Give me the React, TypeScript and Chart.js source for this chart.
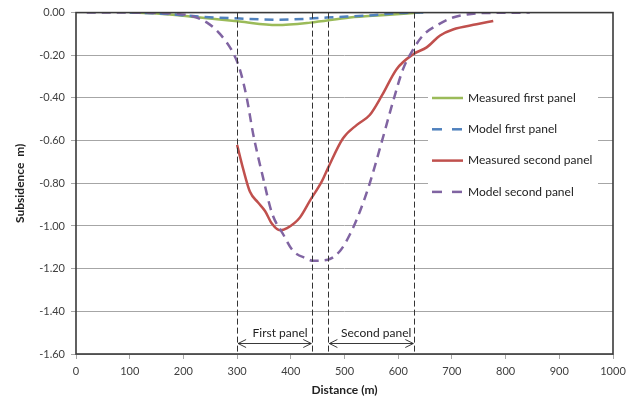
import React, { useEffect, useRef } from "react";
import { Chart, registerables } from "chart.js";

Chart.register(...registerables);

const xTicks = [0, 100, 200, 300, 400, 500, 600, 700, 800, 900, 1000];
const yTicks = [0, -0.2, -0.4, -0.6, -0.8, -1.0, -1.2, -1.4, -1.6];

const seriesNames = [
  "Measured first panel",
  "Model first panel",
  "Measured second panel",
  "Model second panel",
];

const measuredFirstX = [100, 150, 231, 305, 374, 436, 510, 570, 640];
const measuredFirstY = [0, -0.004, -0.023, -0.042, -0.058, -0.047, -0.023, -0.012, 0];

const modelFirstX = [100, 160, 231, 305, 374, 436, 467, 542, 628, 650];
const modelFirstY = [0, -0.005, -0.019, -0.028, -0.033, -0.028, -0.023, -0.014, 0, 0];

const measuredSecondX = [300, 311, 324, 339, 352, 365, 380, 393, 417, 436, 458, 469, 497, 523, 547, 570, 597, 628, 653, 678, 702, 746, 777];
const measuredSecondY = [-0.62, -0.73, -0.84, -0.89, -0.93, -0.99, -1.02, -1.01, -0.96, -0.88, -0.79, -0.73, -0.59, -0.526, -0.48, -0.387, -0.265, -0.195, -0.163, -0.107, -0.079, -0.055, -0.039];

const modelSecondX = [20, 100, 180, 212, 244, 268, 292, 305, 318, 330, 348, 365, 386, 404, 430, 441, 469, 492, 510, 529, 547, 570, 590, 609, 628, 646, 672, 702, 728, 760, 845];
const modelSecondY = [0, 0, -0.005, -0.014, -0.047, -0.1, -0.186, -0.265, -0.4, -0.57, -0.77, -0.94, -1.04, -1.116, -1.153, -1.163, -1.158, -1.116, -1.04, -0.93, -0.8, -0.6, -0.42, -0.265, -0.172, -0.107, -0.06, -0.023, -0.009, -0.002, 0];

const panelBoundaries = [300, 440, 470, 630];
const panelLabels = ["First panel", "Second panel"];
const panelLabelX = [380, 559];
const panelLabelY = -1.5;
const arrowY = -1.55;

const colors = ["#9bbb59", "#4f81bd", "#c0504d", "#8064a2"];
const dashes: number[][] = [[], [9, 6], [], [9, 6]];

const FONT = "Lato, 'Open Sans', sans-serif";

function zip(xs: number[], ys: number[]) {
  return xs.map((x, i) => ({ x, y: ys[i] }));
}

export default function App() {
  const ref = useRef<HTMLCanvasElement | null>(null);

  useEffect(() => {
    const canvas = ref.current;
    if (!canvas) return;
    const allX = [measuredFirstX, modelFirstX, measuredSecondX, modelSecondX];
    const allY = [measuredFirstY, modelFirstY, measuredSecondY, modelSecondY];

    const overlay = {
      id: "overlay",
      afterDatasetsDraw(chart: any) {
        const { ctx, chartArea, scales } = chart;
        const xs = scales.x;
        const ys = scales.y;
        ctx.save();
        // border
        ctx.strokeStyle = "#3a3a3a";
        ctx.lineWidth = 1.6;
        ctx.strokeRect(chartArea.left, chartArea.top, chartArea.right - chartArea.left, chartArea.bottom - chartArea.top);
        // vertical dashed lines
        ctx.strokeStyle = "#333";
        ctx.lineWidth = 1;
        ctx.setLineDash([6, 3]);
        panelBoundaries.forEach((v) => {
          const px = Math.round(xs.getPixelForValue(v)) + 0.5;
          ctx.beginPath();
          ctx.moveTo(px, chartArea.top);
          ctx.lineTo(px, chartArea.bottom);
          ctx.stroke();
        });
        ctx.setLineDash([]);
        // arrows
        const ay = Math.round(ys.getPixelForValue(arrowY)) + 0.5;
        for (let i = 0; i < 2; i++) {
          const a = xs.getPixelForValue(panelBoundaries[i * 2]) + 1;
          const b = xs.getPixelForValue(panelBoundaries[i * 2 + 1]) - 1;
          ctx.strokeStyle = "#222";
          ctx.lineWidth = 0.9;
          ctx.beginPath();
          ctx.moveTo(a, ay);
          ctx.lineTo(b, ay);
          ctx.moveTo(a + 8, ay - 4);
          ctx.lineTo(a, ay);
          ctx.lineTo(a + 8, ay + 4);
          ctx.moveTo(b - 8, ay - 4);
          ctx.lineTo(b, ay);
          ctx.lineTo(b - 8, ay + 4);
          ctx.stroke();
          ctx.fillStyle = "#222";
          ctx.font = `12px ${FONT}`;
          ctx.textAlign = "center";
          ctx.textBaseline = "middle";
          ctx.fillText(panelLabels[i], xs.getPixelForValue(panelLabelX[i]), ys.getPixelForValue(panelLabelY));
        }
        // legend
        const lx = 428;
        const ly = 84;
        ctx.fillStyle = "#ffffff";
        ctx.fillRect(lx, ly, 170, 122);
        seriesNames.forEach((name, i) => {
          const y = 98 + i * 31.3;
          ctx.strokeStyle = colors[i];
          ctx.lineWidth = 2.5;
          ctx.setLineDash(dashes[i].length ? [10, 10] : []);
          ctx.beginPath();
          ctx.moveTo(432, y);
          ctx.lineTo(463, y);
          ctx.stroke();
          ctx.setLineDash([]);
          ctx.fillStyle = "#222";
          ctx.font = `12px ${FONT}`;
          ctx.textAlign = "left";
          ctx.textBaseline = "middle";
          ctx.fillText(name, 468, y);
        });
        ctx.restore();
      },
    };

    const chart = new Chart(canvas, {
      type: "line",
      data: {
        datasets: seriesNames.map((name, i) => ({
          label: name,
          data: zip(allX[i], allY[i]),
          borderColor: colors[i],
          backgroundColor: colors[i],
          borderWidth: 2.5,
          borderDash: dashes[i],
          pointRadius: 0,
          fill: false,
          cubicInterpolationMode: "monotone" as const,
          order: 4 - i,
        })),
      },
      options: {
        animation: false,
        responsive: false,
        devicePixelRatio: 1,
        layout: { padding: { left: 0, top: 10, right: 23, bottom: 0 } },
        plugins: {
          legend: { display: false },
          tooltip: { enabled: false },
        },
        scales: {
          x: {
            type: "linear",
            min: 0,
            max: 1000,
            afterBuildTicks: (s: any) => {
              s.ticks = xTicks.map((v) => ({ value: v }));
            },
            afterFit: (s: any) => {
              s.height = 45;
            },
            ticks: {
              color: "#404040",
              font: { family: FONT, size: 11 },
              padding: 6,
              callback: (v: any) => String(v),
            },
            grid: {
              display: true,
              drawOnChartArea: false,
              tickLength: 5,
              color: "#a6a6a6",
            },
            border: { display: false },
            title: {
              display: true,
              text: "Distance (m)",
              color: "#222",
              font: { family: FONT, size: 12, weight: "bold" },
              padding: { top: 0, bottom: 2 },
            },
          },
          y: {
            type: "linear",
            min: -1.6,
            max: 0,
            afterBuildTicks: (s: any) => {
              s.ticks = yTicks.map((v) => ({ value: v }));
            },
            afterFit: (s: any) => {
              s.width = 76;
            },
            ticks: {
              color: "#404040",
              font: { family: FONT, size: 11 },
              padding: 6,
              callback: (v: any) => Number(v).toFixed(2),
            },
            grid: {
              display: true,
              drawOnChartArea: true,
              tickLength: 5,
              color: "#a6a6a6",
              lineWidth: 1,
            },
            border: { display: false },
            title: {
              display: true,
              text: "Subsidence  m)",
              color: "#222",
              font: { family: FONT, size: 12, weight: "bold" },
              padding: { top: 13, bottom: 0 },
            },
          },
        },
      },
      plugins: [overlay],
    });
    return () => chart.destroy();
  }, []);

  return (
    <div style={{ position: "absolute", left: 0, top: 0, width: 636, height: 399, background: "#fff" }}>
      <canvas ref={ref} width={636} height={399} />
    </div>
  );
}
